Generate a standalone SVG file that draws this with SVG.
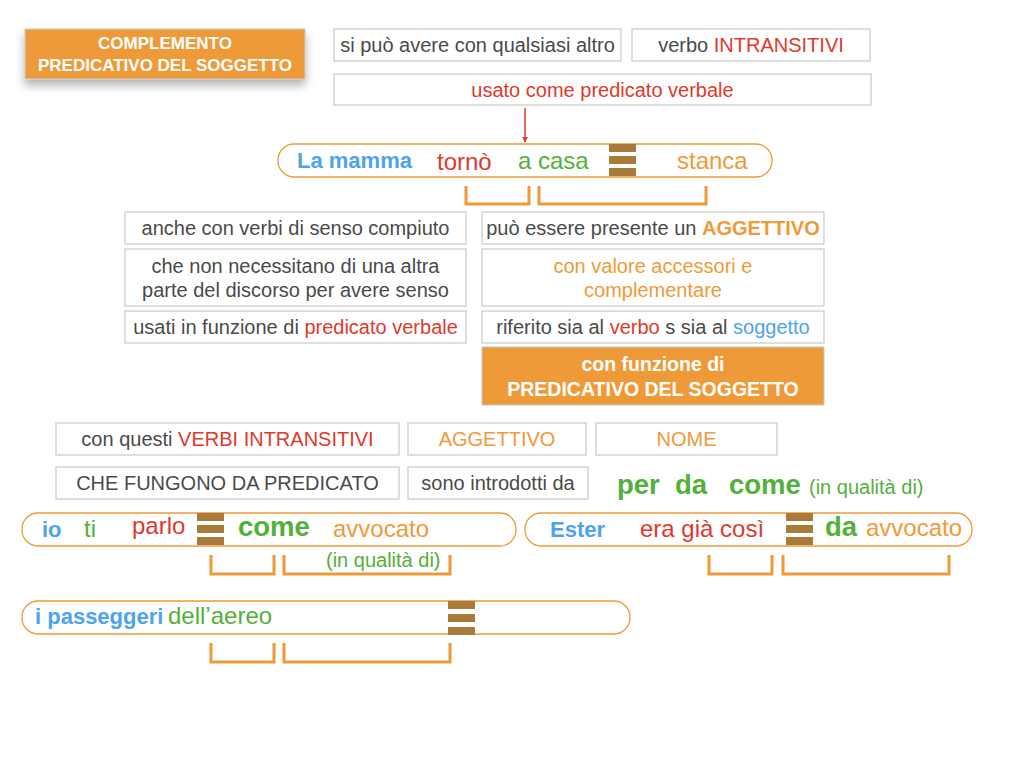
<svg xmlns="http://www.w3.org/2000/svg" width="1024" height="768" viewBox="0 0 1024 768">
<defs>
<filter id="sh" x="-20%" y="-30%" width="140%" height="190%">
<feDropShadow dx="0" dy="6" stdDeviation="5" flood-color="#000" flood-opacity="0.3"/>
</filter>
<marker id="ar" viewBox="0 0 10 10" refX="9" refY="5" markerWidth="4" markerHeight="4" orient="auto">
<path d="M0,0 L10,5 L0,10 z" fill="#E0392B"/>
</marker>
</defs>
<style>
text{font-family:"Liberation Sans",Arial,sans-serif}
.box{fill:#fff;stroke:#c8c8c8;stroke-width:1.2}
.obox{fill:#EF9A38;stroke:#c8c8c8;stroke-width:1}
.t{font-size:20px;fill:#4a4a4a;text-anchor:middle}
.w{fill:#fff;font-weight:bold;text-anchor:middle}
.pill{fill:#fff;stroke:#EF9A38;stroke-width:1.3}
.bar{fill:#A87B3A}
.br{fill:none;stroke:#EF9A38;stroke-width:3}
.red{fill:#E0392B}.org{fill:#EF9A38}.grn{fill:#53B03A}.blu{fill:#4DA3F0}
.b{font-weight:bold}
.rg{font-size:24px}.bb{font-size:22px;font-weight:bold}.big{font-size:27.5px;font-weight:bold}.sm{font-size:20px}
</style>
<rect width="1024" height="768" fill="#fff"/>

<g id="title">
<rect x="25" y="29" width="280" height="50" class="obox" filter="url(#sh)"/>
<text x="165" y="49" class="w" style="font-size:17px">COMPLEMENTO</text>
<text x="165" y="71" class="w" style="font-size:17px">PREDICATIVO DEL SOGGETTO</text>
</g>

<g id="n1"><rect x="334" y="29" width="287" height="32" class="box"/><text x="477.5" y="52" class="t">si può avere con qualsiasi altro</text></g>
<g id="n2"><rect x="632" y="29" width="238" height="32" class="box"/><text x="751" y="52" class="t">verbo <tspan class="red">INTRANSITIVI</tspan></text></g>
<g id="n3"><rect x="334" y="74" width="537" height="31" class="box"/><text x="602.5" y="97" class="t red">usato come predicato verbale</text></g>

<g id="connectors">
<line x1="525" y1="108" x2="525" y2="142" stroke="#E0392B" stroke-width="1.5" marker-end="url(#ar)"/>
</g>

<g id="s1">
<rect x="278" y="144" width="494" height="33" rx="16" class="pill"/>
<text x="297" y="168" class="blu bb">La mamma</text>
<text x="437" y="170" class="red rg">tornò</text>
<text x="518" y="169" class="grn rg">a casa</text>
<rect x="609" y="144" width="27" height="8" class="bar"/>
<rect x="609" y="156" width="27" height="8" class="bar"/>
<rect x="609" y="168" width="27" height="8" class="bar"/>
<text x="677" y="169" class="org rg">stanca</text>
<path d="M466,186 V204 H529 V186 M539,186 V204 H706 V186" class="br"/>
</g>

<g id="l1"><rect x="125" y="212" width="341" height="32" class="box"/><text x="295.5" y="235" class="t">anche con verbi di senso compiuto</text></g>
<g id="l2"><rect x="125" y="249" width="341" height="57" class="box"/><text x="295.5" y="273" class="t">che non necessitano di una altra</text><text x="295.5" y="297" class="t">parte del discorso per avere senso</text></g>
<g id="l3"><rect x="125" y="311" width="341" height="32" class="box"/><text x="295.5" y="334" class="t">usati in funzione di <tspan class="red">predicato verbale</tspan></text></g>

<g id="r1"><rect x="482" y="212" width="342" height="32" class="box"/><text x="653" y="235" class="t">può essere presente un <tspan class="org b">AGGETTIVO</tspan></text></g>
<g id="r2"><rect x="482" y="249" width="342" height="57" class="box"/><text x="653" y="273" class="t org">con valore accessori e</text><text x="653" y="297" class="t org">complementare</text></g>
<g id="r3"><rect x="482" y="311" width="342" height="32" class="box"/><text x="653" y="334" class="t">riferito sia al <tspan class="red">verbo</tspan> s sia al <tspan class="blu">soggetto</tspan></text></g>
<g id="r4"><rect x="482" y="347" width="342" height="58" class="obox"/><text x="653" y="371" class="w" style="font-size:19.5px">con funzione di</text><text x="653" y="396" class="w" style="font-size:19.5px">PREDICATIVO DEL SOGGETTO</text></g>

<g id="m1"><rect x="56" y="423" width="343" height="32" class="box"/><text x="227.5" y="446" class="t">con questi <tspan class="red">VERBI INTRANSITIVI</tspan></text></g>
<g id="m2"><rect x="408" y="423" width="178" height="32" class="box"/><text x="497" y="446" class="t org">AGGETTIVO</text></g>
<g id="m3"><rect x="596" y="423" width="181" height="32" class="box"/><text x="686.5" y="446" class="t org">NOME</text></g>
<g id="m4"><rect x="56" y="467" width="343" height="32" class="box"/><text x="227.5" y="490" class="t">CHE FUNGONO DA PREDICATO</text></g>
<g id="m5"><rect x="408" y="467" width="180" height="32" class="box"/><text x="498" y="490" class="t">sono introdotti da</text></g>

<g id="preps">
<text x="617" y="494" class="grn big">per</text>
<text x="675" y="494" class="grn big">da</text>
<text x="729" y="494" class="grn big">come</text>
<text x="809" y="494" class="grn sm">(in qualità di)</text>
</g>

<g id="s2">
<rect x="22" y="513" width="494" height="33" rx="16" class="pill"/>
<text x="42" y="537" class="blu bb">io</text>
<text x="84" y="537" class="grn rg">ti</text>
<text x="132" y="534" class="red rg">parlo</text>
<rect x="197" y="513" width="27" height="8" class="bar"/>
<rect x="197" y="525" width="27" height="8" class="bar"/>
<rect x="197" y="537" width="27" height="8" class="bar"/>
<text x="238" y="536" class="grn big">come</text>
<text x="333" y="537" class="org rg">avvocato</text>
<path d="M211,555 V574 H274 V555 M284,555 V574 H450 V555" class="br"/>
<text x="326" y="567" class="grn sm">(in qualità di)</text>
</g>

<g id="s3">
<rect x="525" y="513" width="447" height="33" rx="16" class="pill"/>
<text x="550" y="537" class="blu bb">Ester</text>
<text x="640" y="537" class="red rg">era già così</text>
<rect x="786" y="513" width="27" height="8" class="bar"/>
<rect x="786" y="525" width="27" height="8" class="bar"/>
<rect x="786" y="537" width="27" height="8" class="bar"/>
<text x="825" y="536" class="grn big">da</text>
<text x="866" y="536" class="org rg">avvocato</text>
<path d="M709,555 V574 H772 V555 M783,555 V574 H949 V555" class="br"/>
</g>

<g id="s4">
<rect x="22" y="601" width="608" height="33" rx="16" class="pill"/>
<text x="35" y="624" class="blu bb">i passeggeri</text>
<text x="168" y="624" class="grn rg">dell’aereo</text>
<rect x="448" y="601" width="27" height="8" class="bar"/>
<rect x="448" y="614" width="27" height="8" class="bar"/>
<rect x="448" y="627" width="27" height="8" class="bar"/>
<path d="M211,643 V662 H274 V643 M284,643 V662 H450 V643" class="br"/>
</g>
</svg>
